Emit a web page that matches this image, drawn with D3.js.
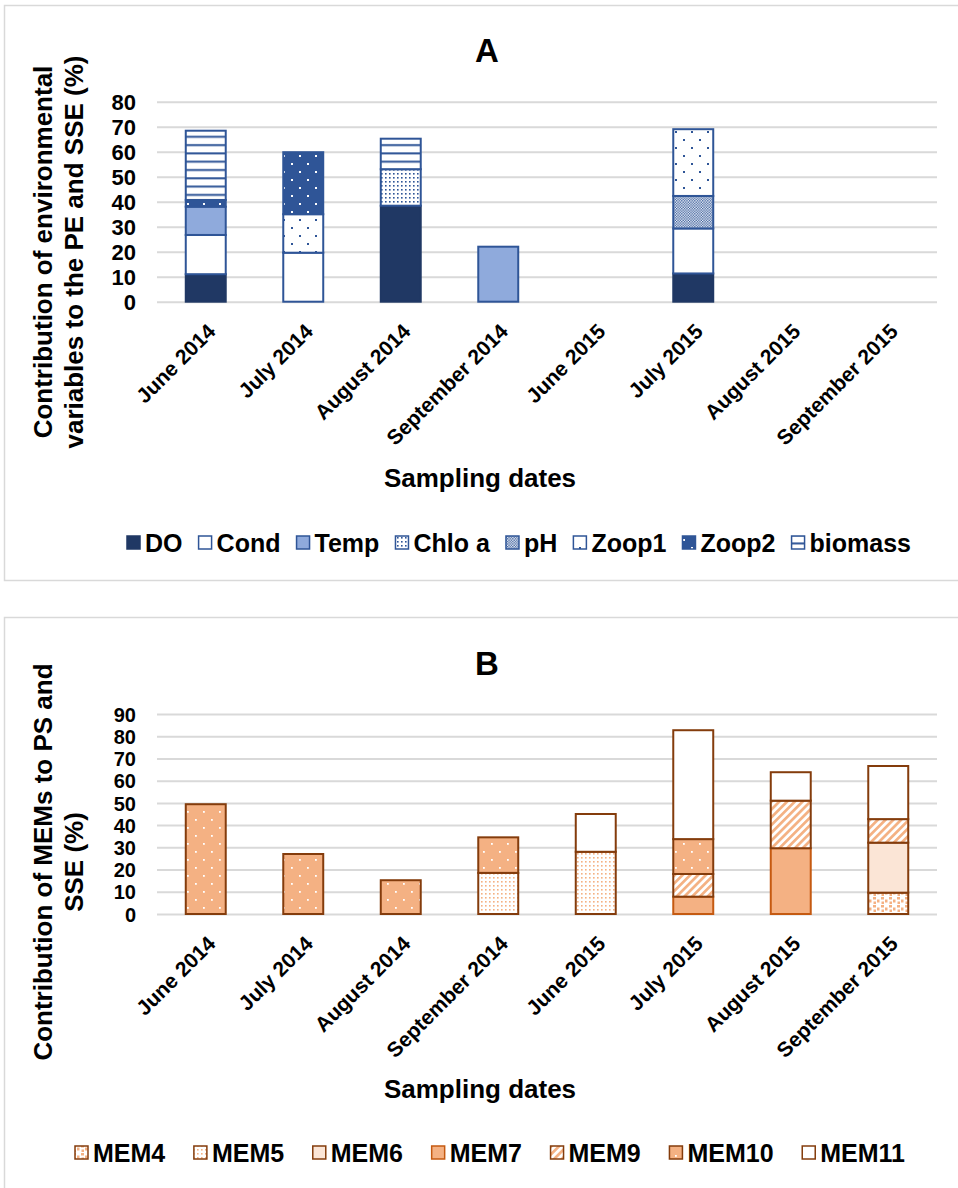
<!DOCTYPE html>
<html>
<head>
<meta charset="utf-8">
<script src="https://cdn.jsdelivr.net/npm/d3@7"></script>
<style>
  body { margin: 0; background: #fff; }
  text { font-family: "Liberation Sans", Arial, sans-serif; font-weight: bold; fill: #000; }
</style>
</head>
<body>
<svg id="chart" width="958" height="1188"></svg>
<script>
// categories
var dates = ["June 2014", "July 2014", "August 2014", "September 2014",
             "June 2015", "July 2015", "August 2015", "September 2015"];

// panel A series (% contribution, stacked in this order)
var envNames = ["DO", "Cond", "Temp", "Chlo a", "pH", "Zoop1", "Zoop2", "biomass"];
var doVals      = [11,   0,    38.4, 0,  0, 11.3, 0, 0];
var condVals    = [15.7, 19.6, 0,    0,  0, 18,   0, 0];
var tempVals    = [11.3, 0,    0,    22, 0, 0,    0, 0];
var chloVals    = [0,    0,    14.6, 0,  0, 0,    0, 0];
var phVals      = [0,    0,    0,    0,  0, 13,   0, 0];
var zoop1Vals   = [0,    15.4, 0,    0,  0, 26.7, 0, 0];
var zoop2Vals   = [2.7,  24.8, 0,    0,  0, 0,    0, 0];
var biomassVals = [27.7, 0,    12.2, 0,  0, 0,    0, 0];
var ticksA = [0, 10, 20, 30, 40, 50, 60, 70, 80];

// panel B series
var memNames = ["MEM4", "MEM5", "MEM6", "MEM7", "MEM9", "MEM10", "MEM11"];
var mem4Vals  = [0,    0,  0,    0,    0,  0,    0,    9.6];
var mem5Vals  = [0,    0,  0,    18.5, 28, 0,    0,    0];
var mem6Vals  = [0,    0,  0,    0,    0,  0,    0,    22.5];
var mem7Vals  = [0,    0,  0,    0,    0,  7.8,  29.6, 0];
var mem9Vals  = [0,    0,  0,    0,    0,  10.2, 21.4, 10.6];
var mem10Vals = [49.4, 27, 15.2, 16,   0,  15.7, 0,    0];
var mem11Vals = [0,    0,  0,    0,    17, 49,   12.8, 23.9];
var ticksB = [0, 10, 20, 30, 40, 50, 60, 70, 80, 90];

var blue = "#2F5597", navy = "#203864", orange = "#F4B183", brown = "#843C0C";

var svg = d3.select("#chart");
var defs = svg.append("defs");

// little helper for the hatch/dot fills Excel uses
function pattern(id, w, h, bg, shapes, rot) {
  var p = defs.append("pattern").attr("id", id)
    .attr("patternUnits", "userSpaceOnUse").attr("width", w).attr("height", h);
  if (rot) p.attr("patternTransform", "rotate(" + rot + ")");
  p.append("rect").attr("width", w).attr("height", h).attr("fill", bg);
  shapes.forEach(function (s) {
    p.append("rect").attr("x", s[0]).attr("y", s[1]).attr("width", s[2]).attr("height", s[3]).attr("fill", s[4]);
  });
}
pattern("p-chlo", 4, 4, "#fff", [[1, 1, 1.6, 1.6, blue]]);
pattern("p-ph", 2.6, 2.6, "#fff", [[0, 0, 1.3, 1.3, blue], [1.3, 1.3, 1.3, 1.3, blue]]);
pattern("p-zoop1", 16, 16, "#fff", [[3, 3, 2, 2, blue], [11, 11, 2, 2, blue]]);
pattern("p-zoop2", 16, 16, blue, [[3, 3, 2, 2, "#fff"], [11, 11, 2, 2, "#fff"]]);
pattern("p-bio", 8, 8.3, "#fff", [[0, 3, 8, 2, blue]]);
pattern("p-mem4", 8, 8, "#fff", [[1, 1, 3, 2.5, orange], [5, 3.5, 2.5, 3, orange], [1.5, 5.5, 2.5, 2.5, orange]]);
pattern("p-mem5", 4, 4, "#fff", [[1, 1, 1.6, 1.6, orange]]);
pattern("p-mem9", 5.5, 6, "#fff", [[0, 0, 2.7, 6, orange]], 45);
pattern("p-mem10", 16, 16, orange, [[3, 3, 1.8, 1.8, "#fff"], [11, 11, 1.8, 1.8, "#fff"]]);

var panelA = {
  title: "A", titleY: 62, frameTop: 5, frameH: 575,
  names: envNames,
  series: [doVals, condVals, tempVals, chloVals, phVals, zoop1Vals, zoop2Vals, biomassVals],
  fills: [navy, "#fff", "#8FAADC", "url(#p-chlo)", "url(#p-ph)", "url(#p-zoop1)", "url(#p-zoop2)", "url(#p-bio)"],
  strokes: [navy, blue, blue, blue, blue, blue, blue, blue],
  ticks: ticksA, tickFont: 22, y0: 301.7, yTop: 101.7,
  yTitle: ["Contribution of environmental", "variables to the PE and SSE (%)"], yTitleY: 252,
  xTitleY: 487, legendY: 552, legendX: [127, 911]
};
var panelB = {
  title: "B", titleY: 675, frameTop: 617, frameH: 620,
  names: memNames,
  series: [mem4Vals, mem5Vals, mem6Vals, mem7Vals, mem9Vals, mem10Vals, mem11Vals],
  fills: ["url(#p-mem4)", "url(#p-mem5)", "#FBE5D6", orange, "url(#p-mem9)", "url(#p-mem10)", "#fff"],
  strokes: [brown, brown, brown, "#C55A11", brown, brown, brown],
  ticks: ticksB, tickFont: 20, y0: 914, yTop: 714,
  yTitle: ["Contribution of MEMs to PS and", "SSE (%)"], yTitleY: 862,
  xTitleY: 1098, legendY: 1162, legendX: [75, 905]
};

function drawPanel(cfg) {
  var g = svg.append("g");

  g.append("rect")
    .attr("x", 4.5).attr("y", cfg.frameTop + 0.5)
    .attr("width", 1000).attr("height", cfg.frameH)
    .attr("fill", "none").attr("stroke", "#d9d9d9").attr("stroke-width", 1.5);

  var x = d3.scaleBand().domain(dates).range([157, 937])
    .paddingInner(0.59).paddingOuter(0.295);
  var y = d3.scaleLinear().domain([0, d3.max(cfg.ticks)]).range([cfg.y0, cfg.yTop]);

  // gridlines + tick labels
  var ax = g.append("g").attr("transform", "translate(157,0)")
    .call(d3.axisLeft(y).tickValues(cfg.ticks).tickSize(-780).tickPadding(21));
  ax.select(".domain").remove();
  ax.selectAll("line").attr("stroke", "#d9d9d9").attr("stroke-width", 2);
  ax.selectAll("text").attr("fill", "#000").style("font-size", cfg.tickFont + "px").attr("dy", "0.36em");

  // stacked bars
  var rows = dates.map(function (d, i) {
    var r = { date: d };
    cfg.names.forEach(function (n, k) { r[n] = cfg.series[k][i]; });
    return r;
  });
  var stacked = d3.stack().keys(cfg.names)(rows);

  stacked.forEach(function (layer, k) {
    g.append("g").selectAll("rect")
      .data(layer.filter(function (d) { return d[1] - d[0] > 0; }))
      .join("rect")
      .attr("x", function (d) { return x(d.data.date); })
      .attr("width", x.bandwidth())
      .attr("y", function (d) { return y(d[1]); })
      .attr("height", function (d) { return y(d[0]) - y(d[1]); })
      .attr("fill", cfg.fills[k])
      .attr("stroke", cfg.strokes[k])
      .attr("stroke-width", 2);
  });

  // rotated category labels
  g.append("g").selectAll("text").data(dates).join("text")
    .attr("text-anchor", "end")
    .style("font-size", "21px")
    .attr("transform", function (d) {
      return "translate(" + (x(d) + x.bandwidth() / 2 + 11) + "," + (cfg.y0 + 31) + ") rotate(-45)";
    })
    .text(function (d) { return d; });

  // titles
  g.append("text").attr("x", 487).attr("y", cfg.titleY).attr("text-anchor", "middle")
    .style("font-size", "33px").text(cfg.title);

  g.append("text").attr("x", 480).attr("y", cfg.xTitleY).attr("text-anchor", "middle")
    .style("font-size", "26px").text("Sampling dates");

  var yt = g.append("text").attr("text-anchor", "middle").style("font-size", "26px")
    .attr("transform", "translate(52," + cfg.yTitleY + ") rotate(-90)");
  cfg.yTitle.forEach(function (line, i) {
    yt.append("tspan").attr("x", 0).attr("dy", i ? 31 : 0).text(line);
  });

  // legend: spread items between the two measured ends
  var lg = g.append("g");
  var items = cfg.names.map(function (n, k) {
    var t = lg.append("text").attr("y", cfg.legendY).style("font-size", "25px").text(n);
    return { text: t, w: t.node().getComputedTextLength(), k: k };
  });
  var sw = 13, inner = 5;
  var used = d3.sum(items, function (d) { return sw + inner + d.w; });
  var gap = (cfg.legendX[1] - cfg.legendX[0] - used) / (items.length - 1);
  var cx = cfg.legendX[0];
  items.forEach(function (it) {
    lg.append("rect").attr("x", cx).attr("y", cfg.legendY - 16).attr("width", sw).attr("height", sw)
      .attr("fill", cfg.fills[it.k]).attr("stroke", cfg.strokes[it.k]).attr("stroke-width", 1.5);
    it.text.attr("x", cx + sw + inner);
    cx += sw + inner + it.w + gap;
  });
}

drawPanel(panelA);
drawPanel(panelB);
</script>
</body>
</html>
